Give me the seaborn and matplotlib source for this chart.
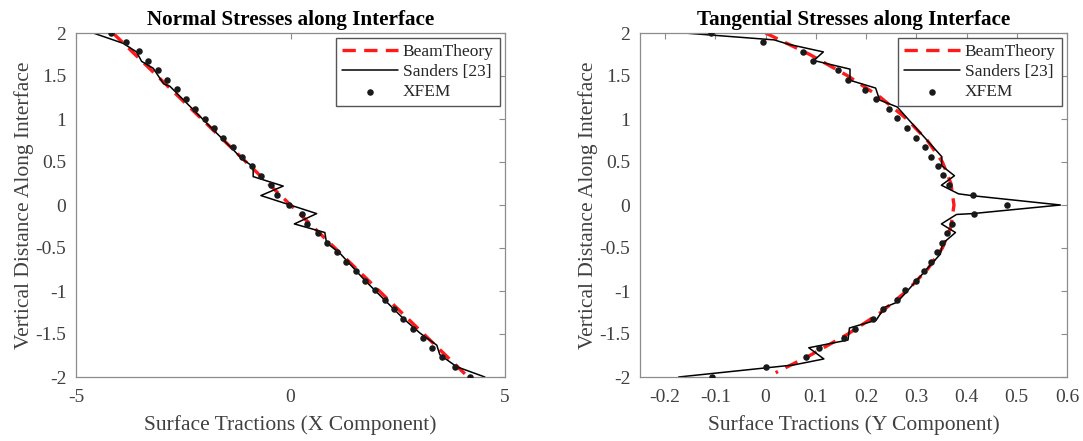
import matplotlib
matplotlib.use("Agg")
import matplotlib.pyplot as plt
import seaborn as sns
import numpy as np

# ---------------- data: Normal stresses (left) ----------------
normal_beam_x = [-4.14, 4.14]
normal_beam_y = [2.0, -2.0]

normal_sanders_x = [-4.60, -3.90, -3.59, -3.47, -3.20, -2.96, -2.81, -1.33, -1.14, -0.87,
                    -0.87, -0.17, -0.69, 0.61, 0.09, 0.80, 0.84, 1.15, 1.74, 2.63,
                    3.02, 3.41, 3.48, 3.87, 4.53]
normal_sanders_y = [2.00, 1.88, 1.78, 1.67, 1.59, 1.41, 1.38, 0.64, 0.54, 0.445,
                    0.33, 0.22, 0.11, -0.10, -0.22, -0.32, -0.44, -0.56, -0.88, -1.32,
                    -1.49, -1.63, -1.74, -1.88, -2.00]

normal_xfem_x = [-4.19, -3.83, -3.54, -3.32, -3.09, -2.88, -2.65, -2.44, -2.22, -2.00,
                 -1.78, -1.57, -1.35, -1.13, -0.90, -0.69, -0.45, -0.32, -0.03, 0.275,
                 0.385, 0.64, 0.84, 1.08, 1.30, 1.53, 1.74, 1.98, 2.20, 2.41,
                 2.63, 2.86, 3.08, 3.31, 3.53, 3.83, 4.18]
normal_xfem_y = [2.00, 1.90, 1.79, 1.68, 1.57, 1.45, 1.35, 1.23, 1.12, 1.00,
                 0.90, 0.78, 0.67, 0.56, 0.45, 0.34, 0.23, 0.12, 0.00, -0.105,
                 -0.22, -0.33, -0.44, -0.55, -0.66, -0.77, -0.88, -0.99, -1.10, -1.21,
                 -1.33, -1.44, -1.55, -1.66, -1.77, -1.88, -2.00]

# ---------------- data: Tangential stresses (right) ----------------
tang_beam_x = [0.000, 0.088, 0.164, 0.229, 0.281, 0.322, 0.352, 0.369, 0.375,
               0.369, 0.352, 0.322, 0.281, 0.229, 0.164, 0.088, 0.020]
tang_beam_y = [2.00, 1.75, 1.50, 1.25, 1.00, 0.75, 0.50, 0.25, 0.00,
               -0.25, -0.50, -0.75, -1.00, -1.25, -1.50, -1.75, -1.95]

tang_sanders_x = [-0.162, 0.017, 0.045, 0.115, 0.096, 0.168, 0.168, 0.219, 0.227, 0.262,
                  0.351, 0.350, 0.376, 0.350, 0.384, 0.412, 0.587, 0.412, 0.380, 0.350,
                  0.378, 0.352, 0.348, 0.328, 0.302, 0.262, 0.237, 0.220, 0.167, 0.164,
                  0.086, 0.116, 0.056, -0.173]
tang_sanders_y = [2.00, 1.92, 1.87, 1.78, 1.68, 1.58, 1.45, 1.36, 1.22, 1.14,
                  0.56, 0.46, 0.34, 0.23, 0.13, 0.108, 0.00, -0.10, -0.11, -0.22,
                  -0.32, -0.45, -0.57, -0.70, -0.87, -1.13, -1.19, -1.34, -1.43, -1.57,
                  -1.66, -1.79, -1.86, -2.00]

tang_xfem_x = [-0.108, -0.005, 0.074, 0.095, 0.144, 0.164, 0.197, 0.219, 0.245, 0.262,
               0.282, 0.300, 0.317, 0.330, 0.343, 0.354, 0.366, 0.412, 0.480, 0.414,
               0.371, 0.361, 0.351, 0.341, 0.330, 0.315, 0.300, 0.278, 0.262, 0.233,
               0.214, 0.177, 0.157, 0.106, 0.081, 0.000, -0.106]
tang_xfem_y = [2.00, 1.90, 1.78, 1.68, 1.57, 1.45, 1.34, 1.23, 1.12, 1.01,
               0.90, 0.78, 0.67, 0.56, 0.45, 0.345, 0.23, 0.12, 0.00, -0.11,
               -0.22, -0.33, -0.44, -0.55, -0.66, -0.77, -0.88, -0.99, -1.10, -1.21,
               -1.33, -1.44, -1.55, -1.66, -1.77, -1.88, -2.00]

titles = ["Normal Stresses along Interface", "Tangential Stresses along Interface"]
xlabels = ["Surface Tractions (X Component)", "Surface Tractions (Y Component)"]
ylabel = "Vertical Distance Along Interface"
legend_labels = ["BeamTheory", "Sanders [23]", "XFEM"]
yticks = [-2, -1.5, -1, -0.5, 0, 0.5, 1, 1.5, 2]
xticks_left = [-5, 0, 5]
xticks_right = [-0.2, -0.1, 0, 0.1, 0.2, 0.3, 0.4, 0.5, 0.6]

# ---------------- style ----------------
sns.set_theme(style="white")
plt.rcParams["font.family"] = ["Liberation Serif", "DejaVu Serif"]
plt.rcParams["axes.unicode_minus"] = False

TXT = "#404040"
SPINE = "#8c8c8c"

fig = plt.figure(figsize=(10.83, 4.41), dpi=100)
ax1 = fig.add_axes([76 / 1083, 64 / 441, 429 / 1083, 344 / 441])
ax2 = fig.add_axes([640 / 1083, 64 / 441, 427 / 1083, 344 / 441])

panels = [
    (ax1, normal_beam_x, normal_beam_y, normal_sanders_x, normal_sanders_y,
     normal_xfem_x, normal_xfem_y, (-5, 5), xticks_left),
    (ax2, tang_beam_x, tang_beam_y, tang_sanders_x, tang_sanders_y,
     tang_xfem_x, tang_xfem_y, (-0.25, 0.6), xticks_right),
]

for i, (ax, bx, by, sx, sy, px, py, xlim, xt) in enumerate(panels):
    sns.lineplot(x=bx, y=by, sort=False, estimator=None, ax=ax, color="#ff1a1a",
                 linewidth=2.4, linestyle=(0, (4, 2.5)), label=legend_labels[0])
    sns.lineplot(x=sx, y=sy, sort=False, estimator=None, ax=ax, color="black",
                 linewidth=1.1, label=legend_labels[1])
    sns.scatterplot(x=px, y=py, ax=ax, color="#1a1a1a", s=22, linewidth=0,
                    label=legend_labels[2], zorder=3)
    ax.set_xlim(*xlim)
    ax.set_ylim(-2, 2)
    ax.set_xticks(xt)
    ax.set_xticklabels([f"{v:g}" for v in xt])
    ax.set_yticks(yticks)
    ax.set_yticklabels([f"{v:g}" for v in yticks])
    ax.tick_params(direction="in", top=True, right=True, length=4, width=0.8,
                   color=SPINE, labelcolor=TXT, labelsize=14)
    ax.tick_params(axis="x", pad=9)
    ax.tick_params(axis="y", pad=7)
    for sp in ax.spines.values():
        sp.set_color(SPINE)
        sp.set_linewidth(0.9)
    ax.set_title(titles[i], fontsize=15.2, fontweight="bold", color="black", pad=6)
    ax.set_xlabel(xlabels[i], fontsize=15.5, color=TXT, labelpad=6)
    ax.set_ylabel(ylabel, fontsize=15.5, color=TXT, labelpad=1)
    h, l = ax.get_legend_handles_labels()
    leg = ax.legend(h, l, loc="upper right", fontsize=12.5, frameon=True, fancybox=False,
                    handlelength=3.2, borderaxespad=0.3, borderpad=0.35,
                    labelspacing=0.22, handletextpad=0.3, edgecolor="#555555",
                    framealpha=1)
    leg.get_frame().set_linewidth(1.0)

fig.savefig("out.png", dpi=100)
